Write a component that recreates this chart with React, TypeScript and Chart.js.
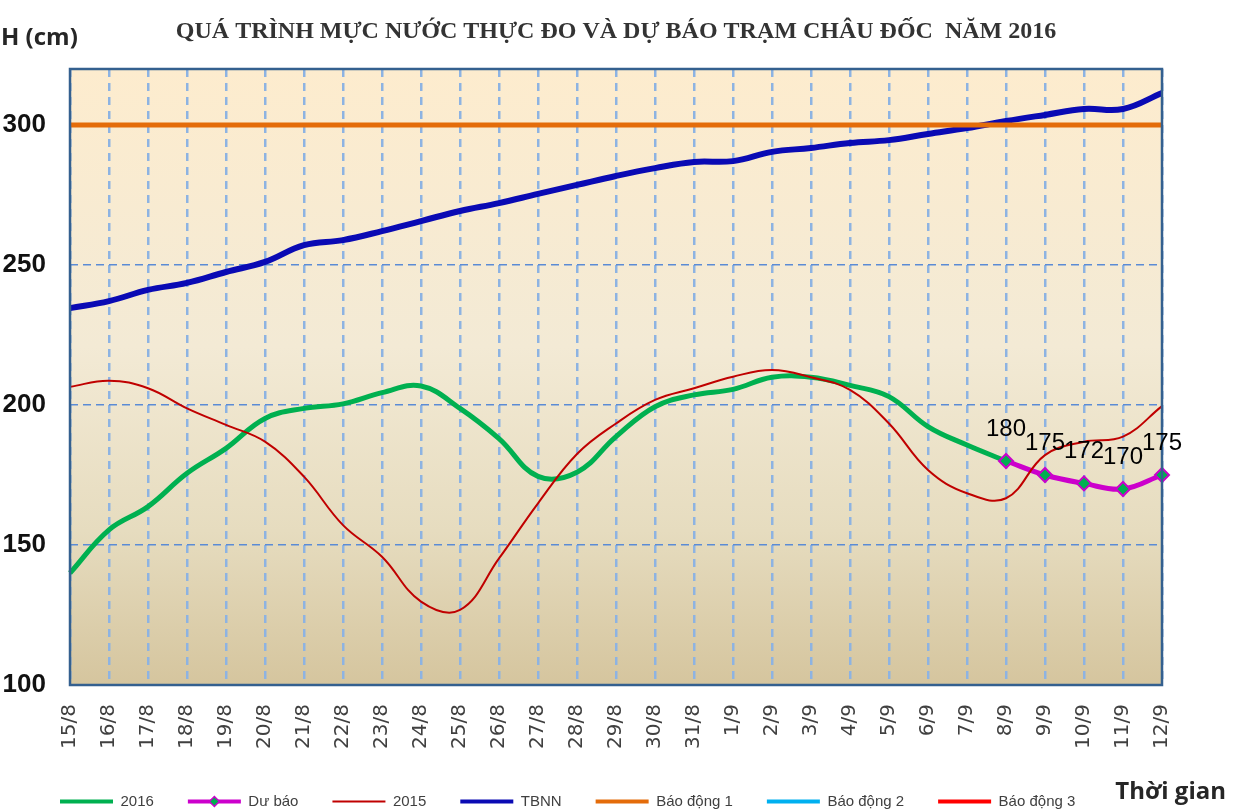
import React, { useEffect, useRef } from 'react';
import { Chart, registerables } from 'chart.js';

Chart.register(...registerables);

const categories = [
  '15/8', '16/8', '17/8', '18/8', '19/8', '20/8', '21/8', '22/8', '23/8', '24/8',
  '25/8', '26/8', '27/8', '28/8', '29/8', '30/8', '31/8', '1/9', '2/9', '3/9',
  '4/9', '5/9', '6/9', '7/9', '8/9', '9/9', '10/9', '11/9', '12/9',
];

const series2016 = [
  140, 155.4, 163.7, 175.6, 184.5, 195.2, 198.8, 200.4, 204.4, 206.8,
  198.8, 188, 174.5, 176, 188.7, 199.4, 203.6, 205.6, 209.9, 209.9,
  207, 203, 192.3, 185.7, 180, null, null, null, null,
];

const forecast = [
  null, null, null, null, null, null, null, null, null, null,
  null, null, null, null, null, null, null, null, null, null,
  null, null, null, null, 180, 175, 172, 170, 175,
];

const series2015 = [
  206.5, 208.7, 206, 198.8, 192.9, 186.9, 174.4, 157.1, 145.8, 129.8,
  126.8, 145.2, 164.9, 182.5, 193.4, 201.8, 206, 210.1, 212.5, 209.9,
  205.4, 193.4, 176.8, 168.5, 166.7, 182.1, 186.9, 188.7, 199.6,
];

const tbnn = [
  234.6, 237.1, 241.1, 243.6, 247.5, 251.1, 257.1, 258.9, 262.1, 265.7,
  269.3, 272.1, 275.4, 278.6, 281.8, 284.6, 286.8, 287.1, 290.4, 291.8,
  293.6, 294.6, 296.8, 298.9, 301.4, 303.6, 305.7, 305.7, 311.4,
];

const alarm1 = [
  300, 300, 300, 300, 300, 300, 300, 300, 300, 300,
  300, 300, 300, 300, 300, 300, 300, 300, 300, 300,
  300, 300, 300, 300, 300, 300, 300, 300, 300,
];

const alarm2 = [
  350, 350, 350, 350, 350, 350, 350, 350, 350, 350,
  350, 350, 350, 350, 350, 350, 350, 350, 350, 350,
  350, 350, 350, 350, 350, 350, 350, 350, 350,
];

const alarm3 = [
  400, 400, 400, 400, 400, 400, 400, 400, 400, 400,
  400, 400, 400, 400, 400, 400, 400, 400, 400, 400,
  400, 400, 400, 400, 400, 400, 400, 400, 400,
];

const yTickValues = [100, 150, 200, 250, 300];
const yGridValues = [150, 200, 250];

const seriesLabels = ['2016', 'Dư báo', '2015', 'TBNN', 'Báo động 1', 'Báo động 2', 'Báo động 3'];
const seriesColors = ['#00b050', '#cc00cc', '#c00000', '#0a0ab4', '#e46c0a', '#00b0f0', '#ff0000'];
const legendLineWidths = [4, 4, 2, 4, 4, 4, 4];

const TITLE = 'QUÁ TRÌNH MỰC NƯỚC THỰC ĐO VÀ DỰ BÁO TRẠM CHÂU ĐỐC  NĂM 2016';

const bgPlugin = {
  id: 'plotBackground',
  afterLayout(chart: any) {
    // let the y-axis labels use the full left margin (avoid clipping)
    const y = chart.scales.y;
    if (y) {
      y.left = 0;
      y.width = y.right;
    }
  },
  beforeDraw(chart: any) {
    const { ctx, chartArea } = chart;
    const { left, top, right, bottom } = chartArea;
    const g = ctx.createLinearGradient(0, top, 0, bottom);
    g.addColorStop(0, '#fdecce');
    g.addColorStop(0.45, '#f3ead5');
    g.addColorStop(0.75, '#e6dcbf');
    g.addColorStop(1, '#d5c59e');
    ctx.save();
    ctx.fillStyle = g;
    ctx.fillRect(left, top, right - left, bottom - top);
    ctx.restore();
  },
};

const framePlugin = {
  id: 'plotFrame',
  afterDatasetsDraw(chart: any) {
    const { ctx, chartArea } = chart;
    const { left, top, right, bottom } = chartArea;
    ctx.save();
    ctx.strokeStyle = '#34608f';
    ctx.lineWidth = 2.5;
    ctx.strokeRect(left, top, right - left, bottom - top);
    ctx.restore();
  },
};

const valueLabelPlugin = {
  id: 'forecastLabels',
  afterDatasetsDraw(chart: any) {
    const { ctx } = chart;
    const meta = chart.getDatasetMeta(1);
    ctx.save();
    ctx.font = '24px "Liberation Sans", Arial, sans-serif';
    ctx.fillStyle = '#000';
    ctx.textAlign = 'center';
    ctx.textBaseline = 'middle';
    meta.data.forEach((pt: any, i: number) => {
      const v = forecast[i];
      if (v === null || v === undefined) return;
      ctx.fillText(String(v), pt.x, pt.y - 32);
    });
    ctx.restore();
  },
};

const extraTextPlugin = {
  id: 'extraText',
  afterDraw(chart: any) {
    const { ctx } = chart;
    ctx.save();
    ctx.fillStyle = '#262626';
    ctx.font = 'bold 24px "Open Sans", sans-serif';
    ctx.textAlign = 'left';
    ctx.textBaseline = 'alphabetic';
    ctx.fillText('H (cm)', 1, 45);
    ctx.textAlign = 'right';
    ctx.fillText('Thời gian', 1226, 799);
    // diamond marker on the "Dư báo" legend line
    const lg = chart.legend;
    if (lg && lg.legendHitBoxes && lg.legendHitBoxes[1]) {
      const hb = lg.legendHitBoxes[1];
      const cx = hb.left + 53 / 2;
      const cy = hb.top + 7.5;
      const r = 5;
      ctx.beginPath();
      ctx.moveTo(cx, cy - r);
      ctx.lineTo(cx + r, cy);
      ctx.lineTo(cx, cy + r);
      ctx.lineTo(cx - r, cy);
      ctx.closePath();
      ctx.fillStyle = '#00b050';
      ctx.fill();
      ctx.lineWidth = 1.5;
      ctx.strokeStyle = '#cc00cc';
      ctx.stroke();
    }
    ctx.restore();
  },
};

export default function App() {
  const ref = useRef<HTMLCanvasElement>(null);

  useEffect(() => {
    const base = { pointRadius: 0, pointHoverRadius: 0, tension: 0.4, fill: false };
    const chart = new Chart(ref.current as HTMLCanvasElement, {
      type: 'line',
      data: {
        labels: categories,
        datasets: [
          { ...base, label: seriesLabels[0], data: series2016, borderColor: seriesColors[0], backgroundColor: seriesColors[0], borderWidth: 5, order: 0 },
          {
            ...base, label: seriesLabels[1], data: forecast, borderColor: seriesColors[1], backgroundColor: seriesColors[1], borderWidth: 5, order: -1,
            pointRadius: 7, pointHoverRadius: 7, pointStyle: 'rectRot', pointBackgroundColor: '#00b050', pointBorderColor: '#cc00cc', pointBorderWidth: 2,
          },
          { ...base, label: seriesLabels[2], data: series2015, borderColor: seriesColors[2], backgroundColor: seriesColors[2], borderWidth: 2, order: -2 },
          { ...base, label: seriesLabels[3], data: tbnn, borderColor: seriesColors[3], backgroundColor: seriesColors[3], borderWidth: 6, order: -3 },
          { ...base, label: seriesLabels[4], data: alarm1, borderColor: seriesColors[4], backgroundColor: seriesColors[4], borderWidth: 5, tension: 0, order: -4 },
          { ...base, label: seriesLabels[5], data: alarm2, borderColor: seriesColors[5], backgroundColor: seriesColors[5], borderWidth: 5, tension: 0, order: -5 },
          { ...base, label: seriesLabels[6], data: alarm3, borderColor: seriesColors[6], backgroundColor: seriesColors[6], borderWidth: 5, tension: 0, order: -6 },
        ],
      },
      options: {
        responsive: false,
        animation: false,
        devicePixelRatio: 1,
        events: [],
        layout: { padding: { left: 26, right: 78, top: 0, bottom: 0 } },
        scales: {
          x: {
            type: 'category',
            offset: false,
            afterFit: (s: any) => { s.height = 75; s.paddingLeft = 0; s.paddingRight = 0; },
            grid: { color: '#8db3e2', lineWidth: 2.5, drawTicks: false },
            border: { display: false, dash: [8, 6] },
            ticks: {
              autoSkip: false,
              minRotation: 90,
              maxRotation: 90,
              padding: 19,
              color: '#404040',
              font: { family: '"DejaVu Sans", "Liberation Sans", Arial, sans-serif', size: 20 },
            },
          },
          y: {
            type: 'linear',
            min: 100,
            max: 320,
            afterFit: (s: any) => { s.width = 44; s.paddingTop = 0; s.paddingBottom = 0; },
            afterBuildTicks: (s: any) => { s.ticks = s.ticks.filter((t: any) => yTickValues.includes(t.value)); },
            grid: {
              color: (c: any) => (c.tick && yGridValues.includes(c.tick.value) ? '#5b8bd5' : 'rgba(0,0,0,0)'),
              lineWidth: 1.5,
              drawTicks: false,
            },
            border: { display: false, dash: [8, 5] },
            ticks: {
              stepSize: 50,
              padding: 24,
              color: '#111',
              font: { family: '"Liberation Sans", Arial, sans-serif', size: 26, weight: 'bold' },
            },
          },
        },
        plugins: {
          title: {
            display: true,
            text: TITLE,
            fullSize: false,
            color: '#333333',
            font: { family: '"Liberation Serif", "Times New Roman", serif', size: 24, weight: 'bold' },
            padding: { top: 17.6, bottom: 22.6 },
          },
          legend: {
            display: true,
            position: 'bottom',
            align: 'start',
            maxHeight: 50,
            labels: {
              usePointStyle: true,
              pointStyleWidth: 53,
              padding: 34,
              color: '#404040',
              font: { family: '"Liberation Sans", Arial, sans-serif', size: 15 },
              generateLabels: () => seriesLabels.map((t, i) => ({
                text: t,
                fillStyle: seriesColors[i],
                strokeStyle: seriesColors[i],
                lineWidth: legendLineWidths[i],
                pointStyle: 'line',
                hidden: false,
                datasetIndex: i,
                fontColor: '#404040',
              })),
            },
          },
          tooltip: { enabled: false },
        },
      },
      plugins: [bgPlugin, framePlugin, valueLabelPlugin, extraTextPlugin],
    } as any);
    return () => chart.destroy();
  }, []);

  return (
    <div style={{ position: 'absolute', left: 0, top: 0, width: 1240, height: 810, background: '#ffffff', overflow: 'hidden' }}>
      <canvas ref={ref} width={1240} height={810} style={{ display: 'block', width: 1240, height: 810 }} />
    </div>
  );
}
